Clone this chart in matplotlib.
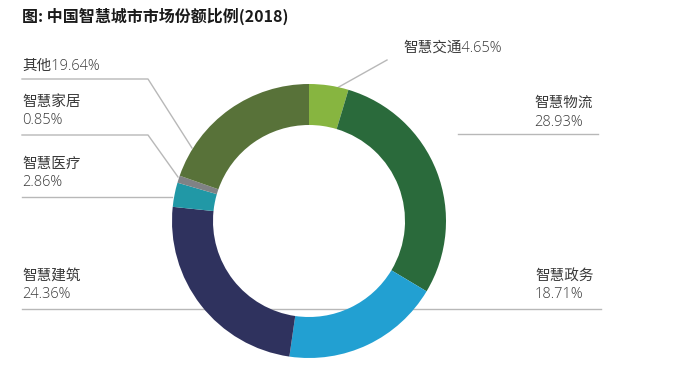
import matplotlib
matplotlib.use("Agg")
import matplotlib.pyplot as plt

plt.rcParams['font.family'] = ['Noto Sans CJK SC', 'DejaVu Sans']

# data
categories = ["智慧交通", "智慧物流", "智慧政务", "智慧建筑", "智慧医疗", "智慧家居", "其他"]
shares = [4.65, 28.93, 18.71, 24.36, 2.86, 0.85, 19.64]
colors = ["#87B540", "#2A6A3B", "#22A0D2", "#2F325E", "#2198A6", "#808285", "#587239"]
title = "图: 中国智慧城市市场份额比例(2018)"

W, H = 673, 372
fig = plt.figure(figsize=(W / 100, H / 100), dpi=100)
ax = fig.add_axes([0, 0, 1, 1])


def py(y):
    """pixel row (from top) -> data y"""
    return H - y


line_kw = dict(color="#B8B8B8", lw=1.0, zorder=1)
text_kw = dict(fontsize=10.5, color="#3A3A3A", va="center", ha="left",
               family=['Open Sans', 'Noto Sans CJK SC'], fontweight="light")

# leader lines (drawn under the ring)
ax.plot([22, 601], [py(309), py(309)], **line_kw)            # 建筑 / 政务 share one line
ax.plot([458, 598], [py(134), py(134)], **line_kw)           # 物流
ax.plot([337, 387], [py(88), py(60)], **line_kw)             # 交通
ax.plot([22, 148, 192], [py(79), py(79), py(148)], **line_kw)  # 其他
ax.plot([22, 148, 178], [py(135), py(135), py(177)], **line_kw)  # 家居
ax.plot([22, 172], [py(197), py(197)], **line_kw)            # 医疗

# donut
wedges, _ = ax.pie(shares, colors=colors, startangle=90, counterclock=False,
                   center=(309, py(221)), radius=137, frame=True,
                   wedgeprops=dict(width=41, linewidth=0))
for w in wedges:
    w.set_zorder(2)
ax.set_xlim(0, W)
ax.set_ylim(0, H)
ax.set_aspect("equal")
ax.axis("off")

lab = dict(zip(categories, shares))

ax.text(403, py(48), f"{categories[0]}{lab[categories[0]]:.2f}%", **text_kw)
ax.text(534, py(103), categories[1], **text_kw)
ax.text(534, py(122), f"{lab[categories[1]]:.2f}%", **text_kw)
ax.text(535, py(276), categories[2], **text_kw)
ax.text(535, py(295), f"{lab[categories[2]]:.2f}%", **text_kw)
ax.text(22, py(276), categories[3], **text_kw)
ax.text(22, py(295), f"{lab[categories[3]]:.2f}%", **text_kw)
ax.text(22, py(164), categories[4], **text_kw)
ax.text(22, py(183), f"{lab[categories[4]]:.2f}%", **text_kw)
ax.text(22, py(102), categories[5], **text_kw)
ax.text(22, py(121), f"{lab[categories[5]]:.2f}%", **text_kw)
ax.text(22, py(66), f"{categories[6]}{lab[categories[6]]:.2f}%", **text_kw)

ax.text(22, py(16), title, fontsize=11.5, fontweight="bold", color="#1A1A1A",
        va="center", ha="left")

fig.savefig("out.png", dpi=100)
